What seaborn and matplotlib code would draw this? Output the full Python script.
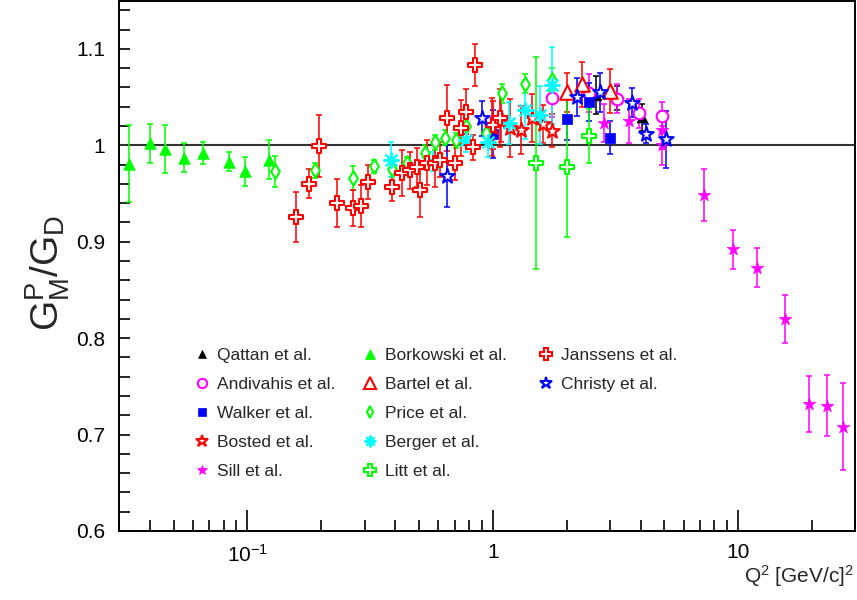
import numpy as np
import pandas as pd
import matplotlib
matplotlib.use("Agg")
import matplotlib.pyplot as plt
from matplotlib.lines import Line2D
from matplotlib.ticker import FixedLocator, FixedFormatter, NullFormatter
import seaborn as sns

# ---- data: Q2 [GeV/c]^2, GMp/GD, error ----
borkowski_x = [0.033, 0.040, 0.046, 0.055, 0.066, 0.084, 0.098, 0.123]
borkowski_y = [0.981, 1.002, 0.996, 0.987, 0.992, 0.983, 0.973, 0.985]
borkowski_e = [0.040, 0.020, 0.025, 0.015, 0.011, 0.010, 0.015, 0.020]

price_x = [0.13, 0.189, 0.27, 0.328, 0.388, 0.447, 0.53, 0.58, 0.64, 0.71, 0.78, 0.94, 1.09, 1.35, 1.74]
price_y = [0.973, 0.974, 0.966, 0.978, 0.975, 0.982, 0.992, 1.003, 1.008, 1.005, 1.020, 1.013, 1.054, 1.064, 1.068]
price_e = [0.016, 0.008, 0.012, 0.007, 0.008, 0.006, 0.008, 0.008, 0.008, 0.008, 0.008, 0.010, 0.010, 0.010, 0.012]

janssens_x = [0.157, 0.179, 0.195, 0.232, 0.27, 0.29, 0.31, 0.388, 0.425, 0.46, 0.49, 0.505,
              0.54, 0.58, 0.61, 0.65, 0.70, 0.74, 0.78, 0.83, 0.85, 1.0, 1.07]
janssens_y = [0.926, 0.960, 0.999, 0.940, 0.935, 0.937, 0.962, 0.957, 0.971, 0.974, 0.977, 0.954,
              0.982, 0.982, 0.985, 1.028, 0.982, 1.018, 1.035, 0.998, 1.083, 1.021, 1.028]
janssens_e = [0.026, 0.015, 0.032, 0.025, 0.019, 0.022, 0.018, 0.015, 0.024, 0.019, 0.020, 0.028,
              0.023, 0.025, 0.018, 0.034, 0.018, 0.029, 0.023, 0.013, 0.022, 0.025, 0.030]

bosted_x = [0.99, 1.08, 1.17, 1.30, 1.44, 1.60, 1.74]
bosted_y = [1.019, 1.028, 1.018, 1.016, 1.028, 1.022, 1.015]
bosted_e = [0.030, 0.025, 0.030, 0.025, 0.025, 0.020, 0.017]

berger_x = [0.385, 0.57, 0.78, 0.96, 1.16, 1.35, 1.56, 1.74]
berger_y = [0.985, 0.983, 1.005, 1.003, 1.023, 1.037, 1.031, 1.062]
berger_e = [0.018, 0.010, 0.012, 0.015, 0.022, 0.030, 0.030, 0.040]

christy_x = [0.65, 0.90, 2.2, 2.74, 3.7, 4.2, 5.1]
christy_y = [0.968, 1.028, 1.050, 1.055, 1.044, 1.012, 1.006]
christy_e = [0.032, 0.018, 0.020, 0.020, 0.015, 0.010, 0.030]

walker_x = [1.0, 2.0, 2.46, 3.0]
walker_y = [1.012, 1.027, 1.045, 1.008]
walker_e = [0.025, 0.022, 0.020, 0.017]

andivahis_x = [1.74, 2.46, 3.2, 3.96, 4.9]
andivahis_y = [1.049, 1.054, 1.048, 1.033, 1.030]
andivahis_e = [0.020, 0.020, 0.015, 0.015, 0.015]

qattan_x = [2.63, 3.2, 4.05]
qattan_y = [1.052, 1.049, 1.029]
qattan_e = [0.020, 0.012, 0.014]

bartel_x = [2.0, 2.3, 3.0]
bartel_y = [1.055, 1.063, 1.056]
bartel_e = [0.020, 0.023, 0.023]

sill_x = [2.85, 3.6, 4.9, 4.9, 7.27, 9.55, 11.9, 15.5, 19.4, 23.0, 26.7]
sill_y = [1.023, 1.025, 1.016, 1.000, 0.948, 0.892, 0.873, 0.820, 0.732, 0.730, 0.708]
sill_e = [0.020, 0.023, 0.020, 0.020, 0.027, 0.020, 0.020, 0.025, 0.029, 0.032, 0.045]

litt_x = [1.5, 2.0, 2.46]
litt_y = [0.982, 0.977, 1.010]
litt_e = [0.110, 0.072, 0.028]

# name, x, y, err, color, marker, filled, size
series = [
    ("Qattan et al.", qattan_x, qattan_y, qattan_e, "black", "^", True, 60),
    ("Andivahis et al.", andivahis_x, andivahis_y, andivahis_e, "#ff00ff", "o", False, 70),
    ("Walker et al.", walker_x, walker_y, walker_e, "#0000ff", "s", True, 60),
    ("Bosted et al.", bosted_x, bosted_y, bosted_e, "#ff0000", "*", False, 120),
    ("Sill et al.", sill_x, sill_y, sill_e, "#ff00ff", "*", True, 90),
    ("Borkowski et al.", borkowski_x, borkowski_y, borkowski_e, "#00ff00", "^", True, 70),
    ("Bartel et al.", bartel_x, bartel_y, bartel_e, "#ff0000", "^", False, 110),
    ("Price et al.", price_x, price_y, price_e, "#00ff00", "d", False, 55),
    ("Berger et al.", berger_x, berger_y, berger_e, "#00ffff", (8, 2, 0), True, 110),
    ("Litt et al.", litt_x, litt_y, litt_e, "#00ff00", "P", False, 110),
    ("Janssens et al.", janssens_x, janssens_y, janssens_e, "#ff0000", "P", False, 110),
    ("Christy et al.", christy_x, christy_y, christy_e, "#0000ff", "*", False, 120),
]

sns.set_theme(style="white")
plt.rcParams["font.family"] = ["Liberation Sans", "DejaVu Sans"]
plt.rcParams["mathtext.fontset"] = "custom"
plt.rcParams["mathtext.rm"] = "Liberation Sans"
plt.rcParams["mathtext.it"] = "Liberation Sans"
plt.rcParams["mathtext.default"] = "rm"

fig = plt.figure(figsize=(8.57, 6.0), dpi=100)
ax = fig.add_axes([0.139, 0.115, 0.859, 0.884])

ax.axhline(1.0, color="#333333", lw=1.5, zorder=1)

legend_handles = {}
for name, x, y, e, color, marker, filled, size in series:
    df = pd.DataFrame({"Q2": x, "ratio": y, "err": e})
    ax.errorbar(df["Q2"], df["ratio"], yerr=df["err"], fmt="none", ecolor=color,
                elinewidth=1.4, capsize=2.5, capthick=1.4, alpha=0.8, zorder=2)
    face = color if filled else "white"
    lw = 1.5 if (marker == (8, 2, 0) or not filled) else 0.5
    sns.scatterplot(data=df, x="Q2", y="ratio", ax=ax, marker=marker, s=size,
                    facecolor=face, edgecolor=color, linewidth=lw, zorder=3)
    legend_handles[name] = Line2D([], [], ls="none", marker=marker, markersize=size ** 0.5 * 0.8,
                                  markerfacecolor=face, markeredgecolor=color, markeredgewidth=lw)

ax.set_xscale("log")
ax.set_xlim(0.03, 30)
ax.set_ylim(0.6, 1.15)
ax.set_xlabel("")
ax.set_ylabel("")

ax.xaxis.set_major_locator(FixedLocator([0.1, 1, 10]))
ax.xaxis.set_major_formatter(FixedFormatter([r"$10^{-1}$", "1", "10"]))
minors = [m * d for d in (0.01, 0.1, 1, 10) for m in range(2, 10) if 0.03 <= m * d <= 30]
ax.xaxis.set_minor_locator(FixedLocator(minors))
ax.xaxis.set_minor_formatter(NullFormatter())
ax.yaxis.set_major_locator(FixedLocator([0.6, 0.7, 0.8, 0.9, 1.0, 1.1]))
ax.yaxis.set_major_formatter(FixedFormatter(["0.6", "0.7", "0.8", "0.9", "1", "1.1"]))
ax.yaxis.set_minor_locator(FixedLocator(np.arange(0.6, 1.151, 0.02)))

ax.tick_params(axis="both", which="both", direction="in", colors="black", labelsize=15,
               bottom=True, left=True, top=False, right=False, width=1.2)
ax.tick_params(axis="x", which="major", length=15, pad=9)
ax.tick_params(axis="x", which="minor", length=8)
ax.tick_params(axis="y", which="major", length=8, pad=10)
ax.tick_params(axis="y", which="minor", length=8)
for side in ax.spines.values():
    side.set_color("black")
    side.set_linewidth(1.4)

fig.text(0.056, 0.545, r"$G^P_M/G_D$", rotation=90, fontsize=28, ha="center", va="center")
fig.text(0.997, 0.018, r"Q$^2$ [GeV/c]$^2$", fontsize=15, ha="right", va="bottom")

cols = [
    (["Qattan et al.", "Andivahis et al.", "Walker et al.", "Bosted et al.", "Sill et al."], 193),
    (["Borkowski et al.", "Bartel et al.", "Price et al.", "Berger et al.", "Litt et al."], 361),
    (["Janssens et al.", "Christy et al."], 537),
]
for names, left in cols:
    leg = fig.legend([legend_handles[n] for n in names], names, loc="upper left",
                     bbox_to_anchor=(left / 857, 1 - 348 / 600), frameon=False,
                     fontsize=12.5, borderpad=0, handlelength=1.0, handletextpad=0.4,
                     labelspacing=0.8, borderaxespad=0)

fig.savefig("out.png", dpi=100)
